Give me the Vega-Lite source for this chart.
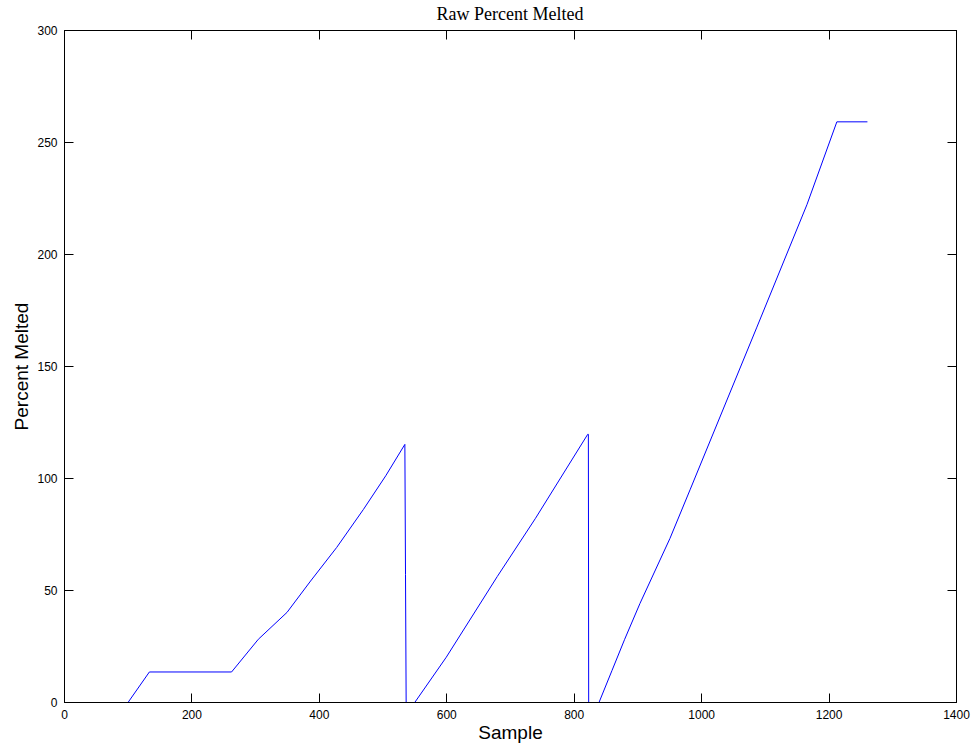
{
  "$schema": "https://vega.github.io/schema/vega-lite/v6.json",
  "autosize": "none",
  "width": 892,
  "height": 672,
  "padding": {"left": 64, "top": 30, "right": 20, "bottom": 49},
  "background": "white",
  "title": {"text": "Raw Percent Melted", "font": "Liberation Serif", "fontSize": 18, "fontWeight": "normal", "color": "#000", "offset": 0},
  "config": {
    "view": {"stroke": "#000", "strokeWidth": 1},
    "axis": {"grid": false, "domainColor": "#000", "tickColor": "#000", "labelColor": "#000", "labelFont": "Liberation Sans", "labelFontSize": 12, "titleFont": "Liberation Sans", "titleFontSize": 19, "titleFontWeight": "normal", "titleColor": "#000", "tickSize": -9, "labelPadding": 16, "labelFlush": false, "labelOverlap": false}
  },
  "data": {"values": [
    {"sample": 101, "pct": 0, "seg": 1},
    {"sample": 134, "pct": 13.4, "seg": 1},
    {"sample": 263, "pct": 13.4, "seg": 1},
    {"sample": 305, "pct": 28, "seg": 1},
    {"sample": 350, "pct": 40, "seg": 1},
    {"sample": 387, "pct": 54, "seg": 1},
    {"sample": 428, "pct": 69, "seg": 1},
    {"sample": 470, "pct": 86, "seg": 1},
    {"sample": 505, "pct": 101, "seg": 1},
    {"sample": 535, "pct": 115, "seg": 1},
    {"sample": 536, "pct": 57, "seg": 1},
    {"sample": 537, "pct": 0, "seg": 1},
    {"sample": 551, "pct": 0, "seg": 2},
    {"sample": 600, "pct": 20, "seg": 2},
    {"sample": 680, "pct": 56, "seg": 2},
    {"sample": 740, "pct": 82, "seg": 2},
    {"sample": 822, "pct": 119.5, "seg": 2},
    {"sample": 823, "pct": 119.5, "seg": 2},
    {"sample": 823.5, "pct": 0, "seg": 2},
    {"sample": 840, "pct": 0, "seg": 3},
    {"sample": 860, "pct": 14, "seg": 3},
    {"sample": 880, "pct": 28, "seg": 3},
    {"sample": 904, "pct": 44, "seg": 3},
    {"sample": 951, "pct": 73, "seg": 3},
    {"sample": 983, "pct": 95, "seg": 3},
    {"sample": 1087, "pct": 167, "seg": 3},
    {"sample": 1166, "pct": 222, "seg": 3},
    {"sample": 1213, "pct": 259, "seg": 3},
    {"sample": 1261, "pct": 259, "seg": 3}
  ]},
  "resolve": {"axis": {"x": "independent", "y": "independent"}},
  "layer": [
    {
      "mark": {"type": "line", "color": "#0000FF", "strokeWidth": 1},
      "encoding": {
        "x": {"field": "sample", "type": "quantitative", "scale": {"domain": [0, 1400], "nice": false}, "axis": {"title": "Sample", "values": [0, 200, 400, 600, 800, 1000, 1200, 1400], "format": "d", "titlePadding": 3}},
        "y": {"field": "pct", "type": "quantitative", "scale": {"domain": [0, 300], "nice": false}, "axis": {"title": "Percent Melted", "values": [0, 50, 100, 150, 200, 250, 300], "format": "d", "titlePadding": 5}},
        "detail": {"field": "seg", "type": "nominal"}
      }
    },
    {
      "mark": {"type": "line", "opacity": 0},
      "encoding": {
        "x": {"field": "sample", "type": "quantitative", "scale": {"domain": [0, 1400], "nice": false}, "axis": {"orient": "top", "title": null, "labels": false, "values": [0, 200, 400, 600, 800, 1000, 1200, 1400]}},
        "y": {"field": "pct", "type": "quantitative", "scale": {"domain": [0, 300], "nice": false}, "axis": {"orient": "right", "title": null, "labels": false, "values": [0, 50, 100, 150, 200, 250, 300]}},
        "detail": {"field": "seg", "type": "nominal"}
      }
    }
  ]
}
